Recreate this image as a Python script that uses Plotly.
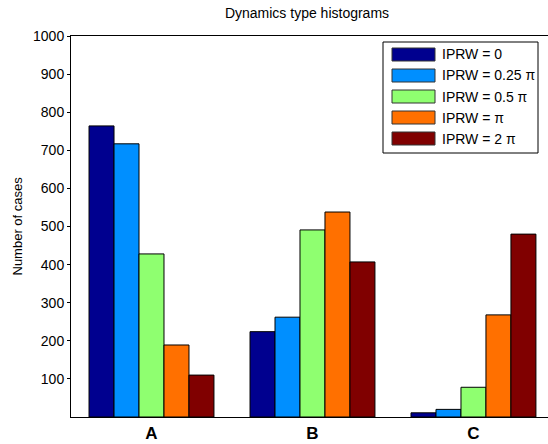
import plotly.graph_objects as go

categories = ["A", "B", "C"]
series_names = ["IPRW = 0", "IPRW = 0.25 π", "IPRW = 0.5 π", "IPRW = π", "IPRW = 2 π"]
iprw_0 = [764, 224, 11]
iprw_025pi = [717, 262, 20]
iprw_05pi = [428, 491, 78]
iprw_pi = [189, 538, 268]
iprw_2pi = [110, 407, 480]
y_ticks = [100, 200, 300, 400, 500, 600, 700, 800, 900, 1000]

series_values = [iprw_0, iprw_025pi, iprw_05pi, iprw_pi, iprw_2pi]
colors = ["#00008F", "#008FFF", "#8FFF70", "#FF7000", "#800000"]

W, H = 548, 444
ml, mr, mt, mb = 71, 0, 36, 27
pw = W - ml - mr
ph = H - mt - mb

fig = go.Figure()
for name, vals, col in zip(series_names, series_values, colors):
    fig.add_trace(go.Bar(
        x=categories, y=vals, name=name,
        marker=dict(color=col, line=dict(color="black", width=1)),
        showlegend=False, hoverinfo="skip",
    ))

font_family = "Liberation Sans, Arial, Helvetica, sans-serif"

def px_x(p):
    return (p - ml) / pw

def px_y(p):
    return (H - mb - p) / ph

shapes = []
annotations = []
# legend box
shapes.append(dict(type="rect", xref="paper", yref="paper",
                   x0=px_x(383), x1=px_x(538), y0=px_y(153), y1=px_y(42),
                   line=dict(color="black", width=1), fillcolor="white", layer="above"))
for i, (name, col) in enumerate(zip(series_names, colors)):
    cy = 54.5 + i * 21
    shapes.append(dict(type="rect", xref="paper", yref="paper",
                       x0=px_x(392), x1=px_x(435), y0=px_y(cy + 6.5), y1=px_y(cy - 6.5),
                       line=dict(color="#333333", width=1), fillcolor=col, layer="above"))
    annotations.append(dict(xref="paper", yref="paper", x=px_x(440), y=px_y(cy),
                            xanchor="left", yanchor="middle", showarrow=False,
                            text=name, font=dict(size=14, color="black", family=font_family)))

annotations.append(dict(xref="paper", yref="paper", x=px_x(17), y=0.5,
                        xanchor="center", yanchor="middle", showarrow=False, textangle=-90,
                        text="Number of cases", font=dict(size=13, color="black", family=font_family)))

fig.update_layout(
    width=W, height=H,
    margin=dict(l=ml, r=mr, t=mt, b=mb, pad=0, autoexpand=False),
    paper_bgcolor="white", plot_bgcolor="white",
    barmode="group", bargap=0.224, bargroupgap=0,
    title=dict(text="Dynamics type histograms", x=307 / W, xanchor="center",
               y=1 - 13 / H, yanchor="middle", yref="container",
               font=dict(size=14, color="black", family=font_family)),
    font=dict(family=font_family, color="black"),
    shapes=shapes, annotations=annotations,
    xaxis=dict(range=[-0.5, 2.463], showline=True, linecolor="black", linewidth=1,
               mirror=True, ticks="", showgrid=False, zeroline=False, ticklabelstandoff=1,
               automargin=False,
               tickfont=dict(size=17, family="Liberation Sans, Arial", color="black", weight="bold")),
    yaxis=dict(range=[0, 1000], tickvals=y_ticks, showline=True, linecolor="black",
               linewidth=1, mirror=False, ticks="outside", ticklen=3, tickcolor="black",
               automargin=False,
               showgrid=False, zeroline=False, tickfont=dict(size=14, color="black")),
)

fig.write_html("out.html", config={"displayModeBar": False, "staticPlot": True},
               post_script="document.body.style.margin='0';document.body.style.overflow='hidden';")
